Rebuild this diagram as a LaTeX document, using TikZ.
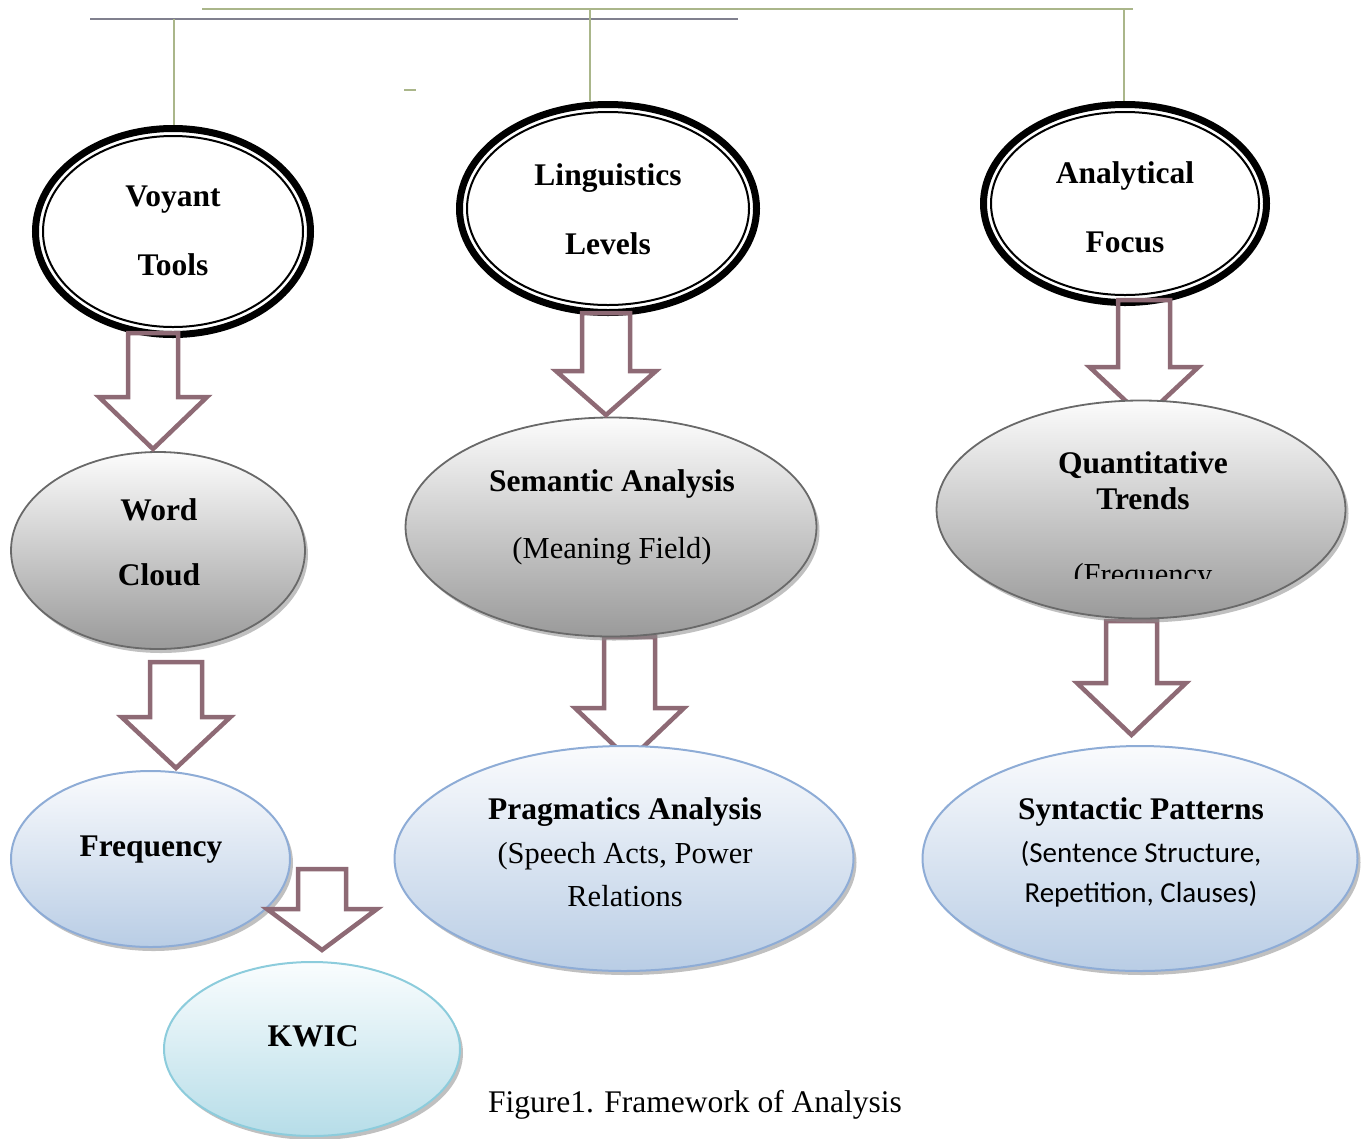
\documentclass[tikz,border=0pt]{standalone}
\usepackage{fontspec}
\setmainfont{Liberation Serif}
\newfontfamily\calfont{Carlito}
\usetikzlibrary{shapes.geometric,shadows,calc}
\definecolor{arrowc}{RGB}{142,106,117}
\definecolor{grayline}{RGB}{128,128,142}
\definecolor{greenline}{RGB}{170,182,138}
\definecolor{grayborder}{RGB}{105,105,105}
\definecolor{graytop}{RGB}{252,252,252}
\definecolor{graybot}{RGB}{154,154,154}
\definecolor{blueborder}{RGB}{142,172,214}
\definecolor{bluetop}{RGB}{250,251,253}
\definecolor{bluebot}{RGB}{185,205,229}
\definecolor{cyanborder}{RGB}{140,204,220}
\definecolor{cyantop}{RGB}{250,253,254}
\definecolor{cyanbot}{RGB}{182,221,232}
\tikzset{
  topell/.style={ellipse, draw=black, line width=7pt, fill=white, inner sep=0pt},
  innerline/.style={draw=black, line width=2pt},
  shadowed/.style={drop shadow={shadow xshift=3pt, shadow yshift=-4pt, fill=black!45, opacity=0.55}},
  grayell/.style={ellipse, draw=grayborder, line width=1.8pt, top color=graytop, bottom color=graybot, inner sep=0pt, shadowed},
  blueell/.style={ellipse, draw=blueborder, line width=2pt, top color=bluetop, bottom color=bluebot, inner sep=0pt, shadowed},
  cyanell/.style={ellipse, draw=cyanborder, line width=2pt, top color=cyantop, bottom color=cyanbot, inner sep=0pt, shadowed},
  blockarr/.style={draw=arrowc, line width=4.5pt, line join=miter},
  hline/.style={line width=2.5pt},
  vline/.style={draw=greenline, line width=1.6pt},
  lbl/.style={font=\fontsize{31.5}{36}\selectfont\bfseries, anchor=base, inner sep=0pt},
  sublbl/.style={font=\fontsize{30.5}{36}\selectfont, anchor=base, inner sep=0pt},
  callbl/.style={font=\fontsize{29}{34}\selectfont\calfont, anchor=base, inner sep=0pt},
  caplbl/.style={font=\fontsize{31.5}{36}\selectfont, anchor=base, inner sep=0pt}
}
\newcommand\blockarrow[5]{%
  \draw[blockarr] let \p1=(#1), \p2=(#2) in
  (\x2-#3pt,\y1) -- (\x2+#3pt,\y1) -- (\x2+#3pt,\y2+#5pt) -- (\x2+#4pt,\y2+#5pt)
  -- (\x2,\y2) -- (\x2-#4pt,\y2+#5pt) -- (\x2-#3pt,\y2+#5pt) -- cycle;}
\begin{document}
\begin{tikzpicture}[x=1pt,y=-1pt]
\useasboundingbox (0,0) rectangle (1372,1138);
% coordinates for lines
\coordinate (g1) at (90,19);
\coordinate (g2) at (738,19);
\coordinate (t1) at (202,9);
\coordinate (t2) at (1133,9);
\coordinate (v1) at (174,19);
\coordinate (v2) at (590,9);
\coordinate (v3) at (1124,9);
\coordinate (d1) at (404,90);
\coordinate (d2) at (416,90);
% arrow coordinates
\coordinate (a1s) at (153,333);   \coordinate (a1e) at (153,449);
\coordinate (a2s) at (176,662);   \coordinate (a2e) at (176,768);
\coordinate (a3s) at (322,869);   \coordinate (a3e) at (322,950);
\coordinate (a4s) at (606,313);   \coordinate (a4e) at (606,415);
\coordinate (a5s) at (629.5,637); \coordinate (a5e) at (629.5,760);
\coordinate (a6s) at (1144,300);  \coordinate (a6e) at (1144,418);
\coordinate (a7s) at (1131.5,621);\coordinate (a7e) at (1131.5,735);

% top ellipses
\node[topell, minimum width=275pt, minimum height=206pt] (voyant) at (173,231.5) {};
\draw[innerline] (voyant.center) ellipse [x radius=130pt, y radius=95.5pt];
\node[topell, minimum width=297pt, minimum height=208pt] (ling) at (608,208.5) {};
\draw[innerline] (ling.center) ellipse [x radius=141pt, y radius=96.5pt];
\node[topell, minimum width=283pt, minimum height=198pt] (anal) at (1125,203.5) {};
\draw[innerline] (anal.center) ellipse [x radius=134pt, y radius=91.5pt];

% lines on top
\draw[hline, draw=grayline] (g1) -- (g2);
\draw[hline, draw=greenline] (t1) -- (t2);
\draw[vline] (v1) -- (v1 |- voyant.north);
\draw[vline] (v2) -- (v2 |- ling.north);
\draw[vline] (v3) -- (v3 |- anal.north);
\draw[hline, draw=greenline, line width=2pt] (d1) -- (d2);

% arrows behind ellipses
\blockarrow{a5s}{a5e}{25.5}{54.5}{52}
\blockarrow{a6s}{a6e}{26}{54.5}{51}
\blockarrow{a7s}{a7e}{25.5}{54.5}{52}

% gradient ellipses
\node[grayell, minimum width=294pt, minimum height=197pt] (word) at (158,550.5) {};
\node[grayell, minimum width=411pt, minimum height=219pt] (sem) at (611,527) {};
\node[grayell, minimum width=409pt, minimum height=218pt] (quant) at (1141,509.5) {};
\node[blueell, minimum width=279pt, minimum height=176pt] (freq) at (150.5,859) {};
\node[blueell, minimum width=459pt, minimum height=225pt] (prag) at (624,858.5) {};
\node[blueell, minimum width=435pt, minimum height=225pt] (synt) at (1140,858.5) {};
\node[cyanell, minimum width=296pt, minimum height=174pt] (kwic) at (312,1049) {};

% arrows on top
\blockarrow{a1s}{a1e}{25}{54}{52}
\blockarrow{a2s}{a2e}{26}{54.5}{51}
\blockarrow{a3s}{a3e}{24}{55}{41}
\blockarrow{a4s}{a4e}{24}{50}{44}

% texts
\node[lbl] (tv1) at (173,206) {Voyant};
\node[lbl] (tv2) at (173,275) {Tools};
\node[lbl] (tl1) at (608,185) {Linguistics};
\node[lbl] (tl2) at (608,254) {Levels};
\node[lbl] (ta1) at (1125,183) {Analytical};
\node[lbl] (ta2) at (1125,252) {Focus};
\node[lbl] (tw1) at (159,520) {Word};
\node[lbl] (tw2) at (159,585) {Cloud};
\node[lbl] (ts1) at (612,491) {Semantic Analysis};
\node[sublbl] (ts2) at (612,558) {(Meaning Field)};
\node[lbl] (tq1) at (1143,473) {Quantitative};
\node[lbl] (tq2) at (1143,509) {Trends};
\begin{scope}
\clip (900,540) rectangle (1380,578);
\node[sublbl] (tq3) at (1143,584) {(Frequency};
\end{scope}
\node[lbl] (tf) at (151,856) {Frequency};
\node[lbl] (tk) at (313,1046) {KWIC};
\node[lbl] (tp1) at (625,819) {Pragmatics Analysis};
\node[sublbl] (tp2) at (625,863) {(Speech Acts, Power};
\node[sublbl] (tp3) at (625,906) {Relations};
\node[lbl] (ty1) at (1141,819) {Syntactic Patterns};
\node[callbl] (ty2) at (1141,862) {(Sentence Structure,};
\node[callbl] (ty3) at (1141,902) {Repetition, Clauses)};
\node[caplbl] (cap) at (695,1112) {Figure1. Framework of Analysis};
\end{tikzpicture}
\end{document}
